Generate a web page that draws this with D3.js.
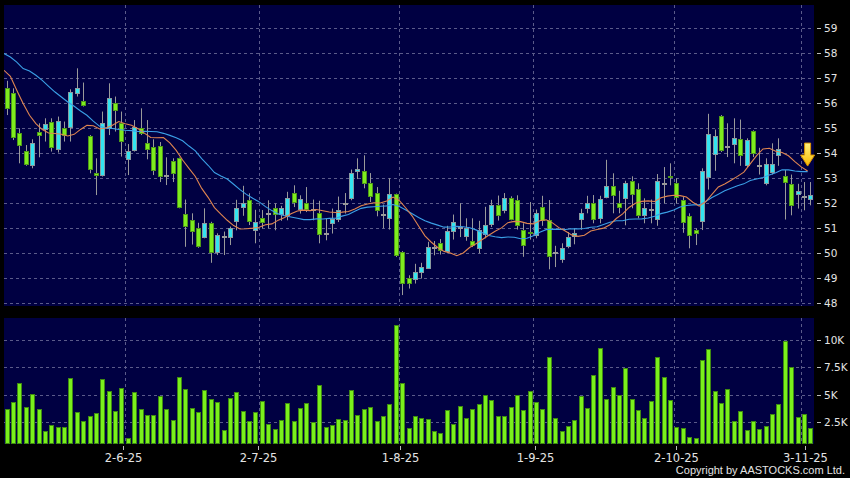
<!DOCTYPE html>
<html><head><meta charset="utf-8">
<script src="https://cdn.jsdelivr.net/npm/d3@7"></script>
<style>html,body{margin:0;padding:0;background:#000;}svg{display:block}</style>
</head><body>
<svg id="c" width="850" height="478"></svg>
<script>
// ---------- data ----------
const opens = [
56.6,56.4,54.8,54.1,53.57,54.85,54.97,55.24,54.17,55.0,
55.04,56.4,56.1,54.71,53.2,53.13,55.0,56.0,55.2,53.77,
54.13,55.0,54.43,54.27,54.31,53.15,53.68,53.8,51.56,51.32,
51.02,50.68,51.22,50.07,50.65,50.66,51.3,51.83,52.15,50.92,
51.4,51.62,51.83,51.58,51.54,52.42,51.79,52.02,51.79,51.62,
50.8,51.19,51.4,52.0,52.22,53.33,53.31,52.8,52.4,51.56,
51.4,52.36,50.07,49.0,48.96,49.24,49.44,50.25,50.4,50.1,
50.9,51.05,50.68,50.5,50.2,50.8,51.16,51.92,51.73,52.22,
52.15,50.92,50.85,50.73,51.84,51.32,50.04,49.76,50.3,50.67,
51.34,51.84,52.02,51.4,52.24,52.71,52.0,52.2,52.9,52.56,
51.53,51.78,51.4,52.83,53.1,52.8,52.13,51.5,50.93,51.3,
53.05,54.0,55.5,54.3,54.37,54.56,53.53,54.9,53.53,52.8,
53.25,53.93,53.1,52.76,52.39,52.28,52.16];
const highs = [
56.9,56.6,55.0,54.33,54.56,55.2,55.4,55.4,55.47,55.27,
56.56,57.4,56.83,54.73,53.8,55.67,56.8,56.27,55.67,54.37,
55.33,55.8,55.33,54.56,54.45,53.84,53.8,53.83,52.15,51.6,
51.22,51.8,51.26,50.8,50.87,51.07,52.14,52.7,52.4,51.74,
51.73,52.12,51.99,51.9,52.46,52.72,52.32,52.65,52.15,52.1,
51.39,51.79,52.27,52.41,53.35,53.8,53.92,53.21,52.65,51.95,
53.0,52.39,50.09,49.12,49.58,49.62,50.46,50.49,50.57,51.1,
51.55,52.0,51.4,51.4,51.3,51.86,52.14,52.31,52.41,52.28,
52.32,51.2,52.05,51.75,52.3,52.13,50.3,50.4,50.85,51.0,
51.78,52.3,52.33,52.3,53.74,53.2,52.5,52.9,53.08,52.8,
52.2,52.15,53.17,53.45,53.6,53.0,52.25,51.6,51.0,53.4,
55.58,54.95,55.53,55.2,55.4,55.35,54.6,54.92,54.22,53.8,
54.4,54.6,53.33,53.15,52.78,52.85,52.85];
const lows = [
55.53,54.53,53.6,53.5,53.4,53.84,54.47,54.07,54.03,54.47,
54.47,56.27,55.87,53.2,52.33,53.07,54.73,54.87,53.87,53.13,
54.07,54.73,53.76,53.13,52.85,52.73,52.85,51.8,50.26,50.35,
50.22,50.6,49.62,49.93,49.93,50.33,50.92,51.5,51.13,50.4,
51.0,51.0,50.92,51.3,51.32,51.85,51.59,51.65,51.32,50.4,
50.52,50.79,51.25,51.59,52.12,52.97,52.6,52.05,51.48,51.0,
50.95,49.85,48.33,48.59,48.79,48.99,49.39,49.92,49.95,50.0,
50.55,50.65,50.5,50.25,50.0,50.6,51.05,51.31,51.6,51.32,
50.95,49.86,50.55,50.6,51.1,49.36,49.45,49.62,50.2,50.36,
50.94,51.6,51.2,51.2,52.2,51.6,51.6,51.12,51.8,51.4,
51.2,51.2,51.1,52.0,52.72,52.0,50.82,50.2,50.33,50.93,
52.55,53.3,54.05,53.85,53.6,53.5,53.45,53.85,53.15,52.72,
53.15,53.5,51.35,51.52,51.79,51.72,51.92];
const closes = [
55.8,54.64,54.33,53.57,54.43,54.75,55.16,54.24,55.3,54.73,
56.44,56.6,55.96,53.4,53.12,55.2,56.2,55.73,54.47,54.1,
55.07,54.8,54.2,53.36,53.13,53.13,53.2,51.85,51.1,50.9,
50.29,51.23,50.08,50.75,50.68,51.0,51.82,52.0,51.31,51.26,
51.26,51.6,51.58,51.8,52.22,52.06,52.17,51.8,51.76,50.76,
50.8,51.36,51.75,52.03,53.23,53.39,52.83,52.3,51.7,51.54,
52.36,49.93,48.81,48.81,49.26,49.45,50.26,50.22,50.13,50.9,
51.25,51.03,51.0,50.33,50.92,51.15,51.92,51.54,52.22,51.4,
51.15,50.33,50.8,51.6,51.33,49.88,50.02,50.2,50.66,50.8,
51.6,52.02,51.4,52.16,52.7,52.36,51.84,52.8,52.37,51.53,
51.8,51.76,52.9,52.8,53.05,52.22,51.26,50.73,50.8,53.3,
54.76,54.7,54.13,54.28,54.6,53.92,54.53,54.02,53.5,53.57,
53.57,54.18,52.85,51.92,52.5,52.25,52.32];
const volumes = [
3690,4360,6040,3930,5060,3720,1700,2280,2040,2070,
6580,3470,2590,3080,3320,6490,5360,3530,5610,1060,
5270,3720,3140,3140,4940,3720,2710,6620,5550,3810,
3410,5400,4600,4330,1800,4720,5240,3500,2590,3410,
4480,2350,1860,2680,4270,2590,3810,4300,2560,5910,
2070,2250,2800,2680,5430,3200,3720,3870,2620,3110,
4180,11370,6070,1980,3110,2850,2770,1700,1550,3660,
2350,3960,2860,3690,4180,4970,4510,3110,3080,3900,
4970,3600,5330,4390,3720,8410,2860,1740,2130,2680,
4910,3780,6800,9270,4600,5760,4970,7440,4660,3600,
2860,4420,8410,6650,4570,2100,1980,1130,1030,8170,
9210,5330,4300,5520,2650,3500,1770,2590,1920,2130,
3290,4140,9940,7560,3020,3260,2010];
// moving averages before enough closes exist
const ma10Head = [57.32,57.08,56.52,55.99,55.52,55.19,54.95,54.81,54.79,54.76];
const ma20Head = [57.99,57.85,57.65,57.39,57.29,57.12,56.92,56.68,56.45,56.25,
                  56.05,55.88,55.69,55.52,55.29,55.08,55.01,54.99,54.95,54.92];
const priceTicks = [48,49,50,51,52,53,54,55,56,57,58,59];
const volTicks = [2500,5000,7500,10000];
const volTickLabels = ["2.5K","5K","7.5K","10K"];
const dateLabels = ["2-6-25","2-7-25","1-8-25","1-9-25","2-10-25","3-11-25"];
const dateIndex = [19,40,62,83,105,125];

// ---------- layout ----------
const svg = d3.select("#c");
const W = 850, H = 478;
const L = 4, R = 814;
const pTop = 5, pBot = 306;
const vTop = 318, vBot = 444;
const n = closes.length;
const COL_UP = "#33e4f0", COL_DN = "#7eec1e", COL_DOJI = "#a8a8a8";
const GRID = "#5b5b8a";
const TXT = "#e4e4e4";

svg.append("rect").attr("width",W).attr("height",H).attr("fill","#000");

const x = d3.scaleBand().domain(d3.range(n)).range([L,R]).padding(0);
const bw = x.bandwidth();
const xt = d3.scaleLinear().domain([0,n]).range([0.6,817.8]); // label axis
const y = d3.scaleLinear().domain([48,59]).range([303.3,28.3]);
const yv = d3.scaleLinear().domain([0,10000]).range([449.7,340]);

const px = i => Math.round(x(i) + bw/2 - 2.5);

// panels
svg.append("rect").attr("x",L).attr("y",pTop).attr("width",R-L).attr("height",pBot-pTop).attr("fill","#000042");
svg.append("rect").attr("x",L).attr("y",vTop).attr("width",R-L).attr("height",vBot-vTop).attr("fill","#000042");

const defs = svg.append("defs");
defs.append("clipPath").attr("id","cp").append("rect").attr("x",L).attr("y",pTop).attr("width",R-L).attr("height",pBot-pTop);
defs.append("clipPath").attr("id","cv").append("rect").attr("x",L).attr("y",vTop).attr("width",R-L).attr("height",vBot-vTop);
const grad = defs.append("linearGradient").attr("id","ag").attr("x1",0).attr("y1",0).attr("x2",0).attr("y2",1);
grad.append("stop").attr("offset","0%").attr("stop-color","#fff27e");
grad.append("stop").attr("offset","100%").attr("stop-color","#f7b800");

// grids
const gp = svg.append("g").attr("stroke",GRID).attr("stroke-dasharray","3,3").attr("stroke-width",1);
priceTicks.forEach(t=>{
  const yy = Math.round(y(t))+0.5;
  gp.append("line").attr("x1",L).attr("x2",R).attr("y1",yy).attr("y2",yy);
});
volTicks.forEach(t=>{
  const yy = Math.round(yv(t))+0.5;
  gp.append("line").attr("x1",L).attr("x2",R).attr("y1",yy).attr("y2",yy);
});
dateIndex.forEach(i=>{
  const xx = Math.round(x(i))+0.5;
  gp.append("line").attr("x1",xx).attr("x2",xx).attr("y1",pTop).attr("y2",pBot);
  gp.append("line").attr("x1",xx).attr("x2",xx).attr("y1",vTop).attr("y2",vBot);
});

// candles
const gc = svg.append("g").attr("clip-path","url(#cp)");
const idx = d3.range(n);
const kind = i => Math.abs(closes[i]-opens[i]) <= 0.035 ? "d" : (closes[i] > opens[i] ? "u" : "n");
gc.selectAll("line.w").data(idx).join("line").attr("class","w")
  .attr("x1",i=>px(i)+2.5).attr("x2",i=>px(i)+2.5)
  .attr("y1",i=>y(highs[i])).attr("y2",i=>y(lows[i]))
  .attr("stroke","#9a9a9a").attr("stroke-width",1);
gc.selectAll("rect.b").data(idx).join("rect").attr("class","b")
  .attr("x",i=>px(i)+0.5).attr("width",4)
  .attr("y",i=>Math.round(y(Math.max(opens[i],closes[i])))+0.5)
  .attr("height",i=>Math.max(1,Math.round(Math.abs(y(opens[i])-y(closes[i])))))
  .attr("fill",i=>({u:COL_UP,n:COL_DN,d:COL_DOJI})[kind(i)])
  .attr("stroke",i=>({u:"#8a9aa0",n:"#4f9a18",d:"#9a9a9a"})[kind(i)])
  .attr("stroke-width",1);

// moving averages: point k sits at right edge of candle k (k=0 -> left edge)
function ma(period, head){
  const pts = [];
  for(let k=0;k<n;k++){
    let v;
    if(k < period) v = head[k];
    else v = d3.mean(closes.slice(k-period,k));
    pts.push([L + k*bw, y(v)]);
  }
  return pts;
}
const line = d3.line().curve(d3.curveLinear);
gc.append("path").attr("d",line(ma(20,ma20Head))).attr("fill","none").attr("stroke","#3a9fe6").attr("stroke-width",1.1);
gc.append("path").attr("d",line(ma(10,ma10Head))).attr("fill","none").attr("stroke","#e08550").attr("stroke-width",1.1);

// arrow marker above the last moving-average point
const ma10pts = ma(10,ma10Head);
const ax = ma10pts[n-1][0], ay = ma10pts[n-1][1]-5;
svg.append("path")
  .attr("d",`M${ax-3},${ay-23}L${ax+3},${ay-23}L${ax+3},${ay-11}L${ax+7},${ay-11}L${ax},${ay}L${ax-7},${ay-11}L${ax-3},${ay-11}Z`)
  .attr("fill","url(#ag)").attr("stroke","#d99200").attr("stroke-width",1);

// volume bars
const gv = svg.append("g").attr("clip-path","url(#cv)");
gv.selectAll("rect").data(idx).join("rect")
  .attr("x",i=>px(i)+0.5).attr("width",4)
  .attr("y",i=>Math.round(yv(volumes[i]))+0.5)
  .attr("height",i=>Math.max(0,vBot-0.5-(Math.round(yv(volumes[i]))+0.5)))
  .attr("fill","#7af01c").attr("stroke","#3f8a12").attr("stroke-width",1);

// right axes
const fa = "DejaVu Sans, Verdana, sans-serif";
priceTicks.forEach(t=>{
  const yy = Math.round(y(t))+0.5;
  svg.append("line").attr("x1",817).attr("x2",821).attr("y1",yy).attr("y2",yy).attr("stroke","#bbb");
  svg.append("text").attr("x",824).attr("y",yy+3.8).text(t)
    .attr("fill",TXT).attr("font-family",fa).attr("font-size","10.5px");
});
volTicks.forEach((t,j)=>{
  const yy = Math.round(yv(t))+0.5;
  svg.append("line").attr("x1",817).attr("x2",821).attr("y1",yy).attr("y2",yy).attr("stroke","#bbb");
  svg.append("text").attr("x",824).attr("y",yy+3.8).text(volTickLabels[j])
    .attr("fill",TXT).attr("font-family",fa).attr("font-size","10.5px");
});

// date axis
dateIndex.forEach((i,j)=>{
  const xx = Math.round(xt(i))+0.5;
  svg.append("line").attr("x1",xx).attr("x2",xx).attr("y1",446).attr("y2",450).attr("stroke","#bbb");
  svg.append("text").attr("x",xx).attr("y",462).attr("text-anchor","middle").text(dateLabels[j])
    .attr("fill",TXT).attr("font-family",fa).attr("font-size","11.5px");
});

svg.append("text").attr("x",845).attr("y",474).attr("text-anchor","end")
  .text("Copyright by AASTOCKS.com Ltd.")
  .attr("fill",TXT).attr("font-family","Liberation Sans, Arial, sans-serif").attr("font-size","11px");
</script>
</body></html>
